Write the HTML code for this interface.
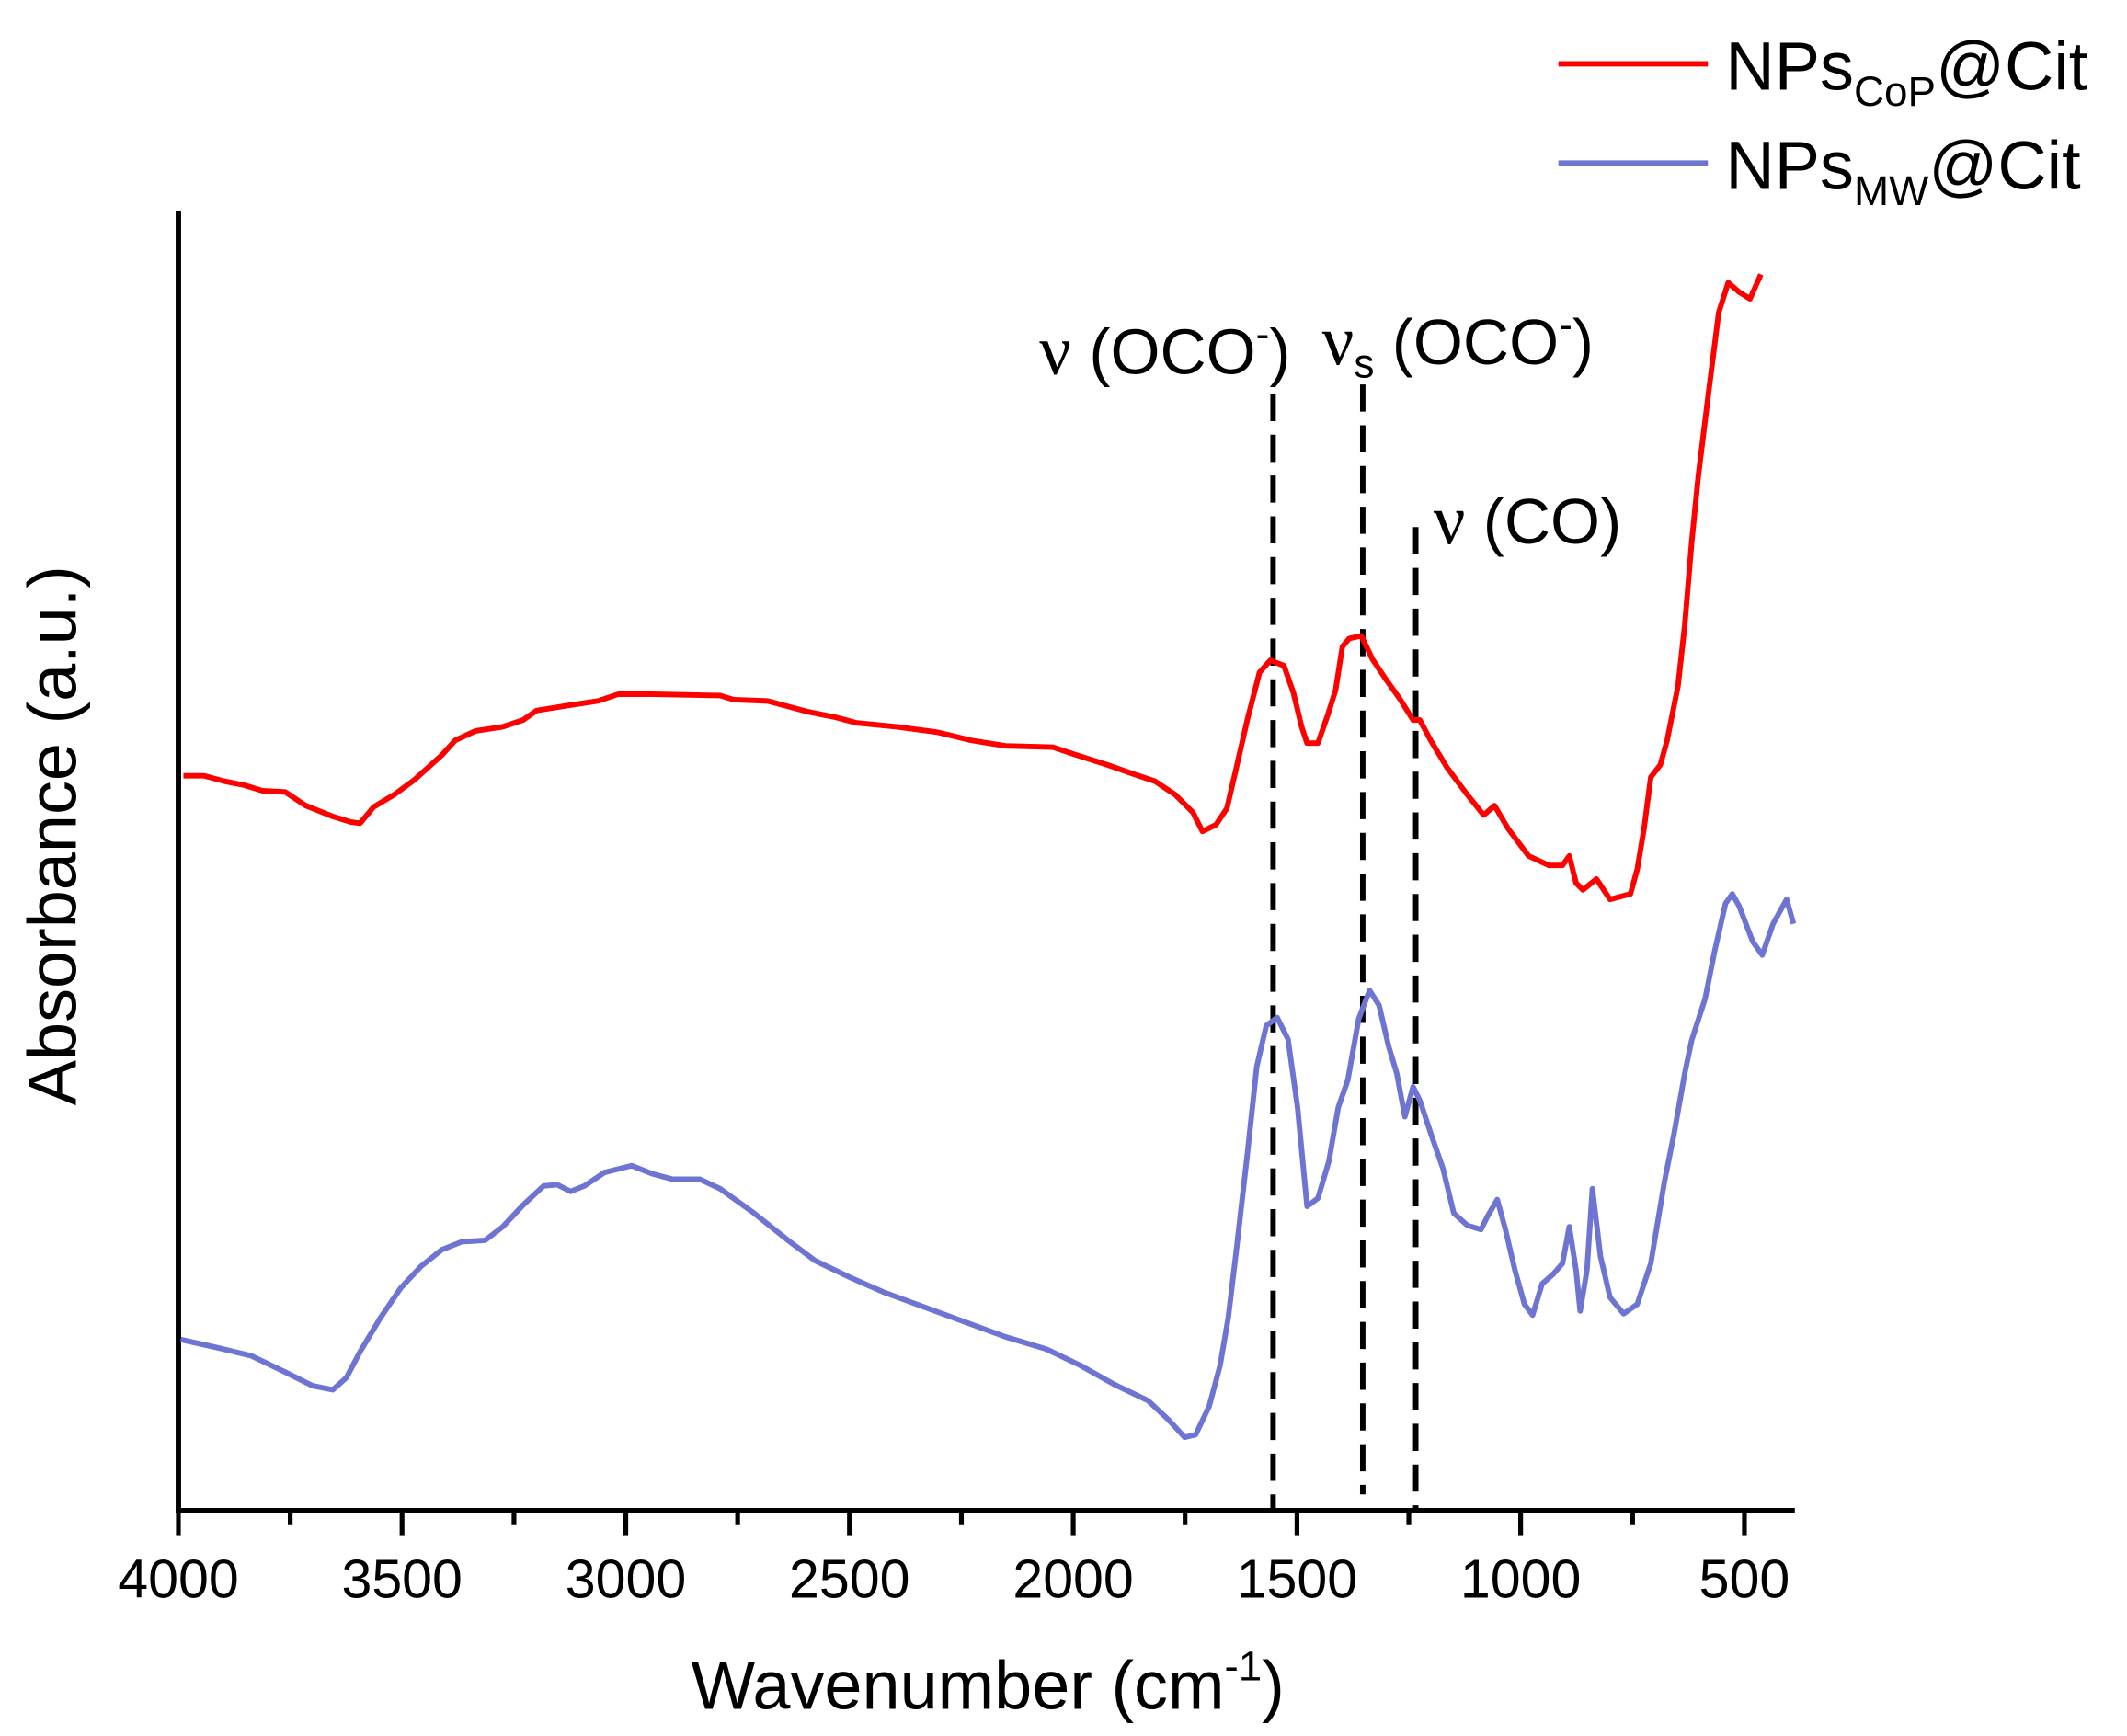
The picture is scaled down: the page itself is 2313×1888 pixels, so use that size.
<!DOCTYPE html>
<html><head><meta charset="utf-8"><style>html,body{margin:0;padding:0;background:#fff}svg{display:block}</style></head>
<body>
<svg width="2313" height="1888" viewBox="0 0 2313 1888" xmlns="http://www.w3.org/2000/svg" font-family="Liberation Sans, Arial, sans-serif">
<g transform="scale(1.4775)">
<!-- axes -->
<line x1="131.3" y1="155" x2="131.3" y2="1114" stroke="#000" stroke-width="4"/>
<line x1="129.3" y1="1112" x2="1321" y2="1112" stroke="#000" stroke-width="4"/>
<g stroke="#000" stroke-width="3.5">
<line x1="131.3" y1="1112" x2="131.3" y2="1130"/>
<line x1="295.9" y1="1112" x2="295.9" y2="1130"/>
<line x1="460.6" y1="1112" x2="460.6" y2="1130"/>
<line x1="625.2" y1="1112" x2="625.2" y2="1130"/>
<line x1="789.9" y1="1112" x2="789.9" y2="1130"/>
<line x1="954.6" y1="1112" x2="954.6" y2="1130"/>
<line x1="1119.2" y1="1112" x2="1119.2" y2="1130"/>
<line x1="1283.9" y1="1112" x2="1283.9" y2="1130"/>
<line x1="213.6" y1="1112" x2="213.6" y2="1122"/>
<line x1="378.3" y1="1112" x2="378.3" y2="1122"/>
<line x1="542.9" y1="1112" x2="542.9" y2="1122"/>
<line x1="707.6" y1="1112" x2="707.6" y2="1122"/>
<line x1="872.2" y1="1112" x2="872.2" y2="1122"/>
<line x1="1036.9" y1="1112" x2="1036.9" y2="1122"/>
<line x1="1201.6" y1="1112" x2="1201.6" y2="1122"/>
</g>
<g font-size="40" text-anchor="middle" fill="#000">
<text x="131.3" y="1176">4000</text>
<text x="295.9" y="1176">3500</text>
<text x="460.6" y="1176">3000</text>
<text x="625.2" y="1176">2500</text>
<text x="789.9" y="1176">2000</text>
<text x="954.6" y="1176">1500</text>
<text x="1119.2" y="1176">1000</text>
<text x="1283.9" y="1176">500</text>
</g>
<text x="727" y="1258" font-size="50" text-anchor="middle">Wavenumber (cm<tspan font-size="31" dy="-21">-1</tspan><tspan dy="21">)</tspan></text>
<text transform="translate(56,615) rotate(-90)" font-size="50" text-anchor="middle">Absorbance (a.u.)</text>

<!-- dashed lines -->
<g stroke="#000" stroke-width="4" stroke-dasharray="20,10">
<line x1="937" y1="290" x2="937" y2="1112"/>
<line x1="1003" y1="283" x2="1003" y2="1100"/>
<line x1="1042" y1="388" x2="1042" y2="1112"/>
</g>
<g font-size="47" fill="#000">
<text x="765" y="275"><tspan font-family="Liberation Serif, serif" font-size="52">ν</tspan> (OCO<tspan font-size="30" dy="-19">-</tspan><tspan dy="19">)</tspan></text>
<text x="973" y="268"><tspan font-family="Liberation Serif, serif" font-size="52">ν</tspan><tspan font-size="30" dy="10">s</tspan><tspan dy="-10"> (OCO</tspan><tspan font-size="30" dy="-19">-</tspan><tspan dy="19">)</tspan></text>
<text x="1055" y="400"><tspan font-family="Liberation Serif, serif" font-size="52">ν</tspan> (CO)</text>
</g>

<!-- legend -->
<line x1="1147" y1="47" x2="1257" y2="47" stroke="#f00" stroke-width="4"/>
<line x1="1147" y1="120" x2="1257" y2="120" stroke="#6e74d2" stroke-width="4"/>
<text x="1270" y="66" font-size="50">NPs<tspan font-size="31" dy="12">CoP</tspan><tspan dy="-12">@Cit</tspan></text>
<text x="1270" y="139" font-size="50">NPs<tspan font-size="31" dy="12">MW</tspan><tspan dy="-12">@Cit</tspan></text>

<!-- red -->
<polyline fill="none" stroke="#f00" stroke-width="4" stroke-linejoin="round" points="135,571 150,571 165,575 180,578 193,582 210,583 225,593 245,601 258,605 265,606 275,594 290,585 305,574 315,565 325,556 335,545 350,538 370,535 385,530 395,523 420,519 440,516 455,511 480,511 530,512 540,515 565,516 580,520 595,524 615,528 630,532 660,535 690,539 715,545 740,549 775,550 790,555 815,563 835,570 850,575 865,585 878,598 885,612 895,607 903,595 910,565 918,530 927,495 935,486 945,490 952,510 958,535 962,547 970,547 977,527 983,508 988,476 993,470 1002,468 1010,485 1020,500 1030,514 1040,530 1045,530 1053,545 1065,565 1080,585 1092,600 1100,593 1110,610 1125,630 1140,637 1150,637 1155,630 1160,650 1165,655 1175,647 1185,662 1200,658 1205,640 1210,610 1215,572 1222,563 1227,545 1235,505 1240,460 1245,400 1250,350 1258,285 1265,230 1272,208 1280,215 1288,220 1296,202"/>
<!-- blue -->
<polyline fill="none" stroke="#6e74d2" stroke-width="4" stroke-linejoin="round" points="133,986 160,992 185,998 210,1010 230,1020 245,1023 255,1014 265,995 280,970 295,948 310,932 325,920 340,914 357,913 370,903 385,887 400,873 410,872 420,877 430,873 445,863 465,858 480,864 495,868 515,868 530,875 555,893 580,913 600,928 625,940 650,951 680,962 710,973 740,984 770,993 795,1005 820,1019 845,1031 860,1045 872,1058 880,1056 890,1035 898,1005 904,970 910,920 918,850 925,785 932,755 940,749 948,765 955,815 962,888 970,882 978,855 985,815 992,795 1000,750 1008,729 1015,740 1022,770 1028,790 1034,822 1040,800 1045,810 1055,840 1062,860 1070,893 1080,902 1090,905 1095,895 1102,883 1108,905 1115,935 1122,960 1128,968 1135,945 1143,938 1150,930 1155,903 1160,935 1163,965 1168,935 1172,875 1178,925 1185,955 1195,967 1205,960 1215,930 1225,870 1232,835 1240,790 1245,766 1255,735 1262,700 1270,665 1275,658 1280,667 1290,693 1297,703 1305,680 1315,662 1320,680"/>
</g>
</svg>
</body></html>
